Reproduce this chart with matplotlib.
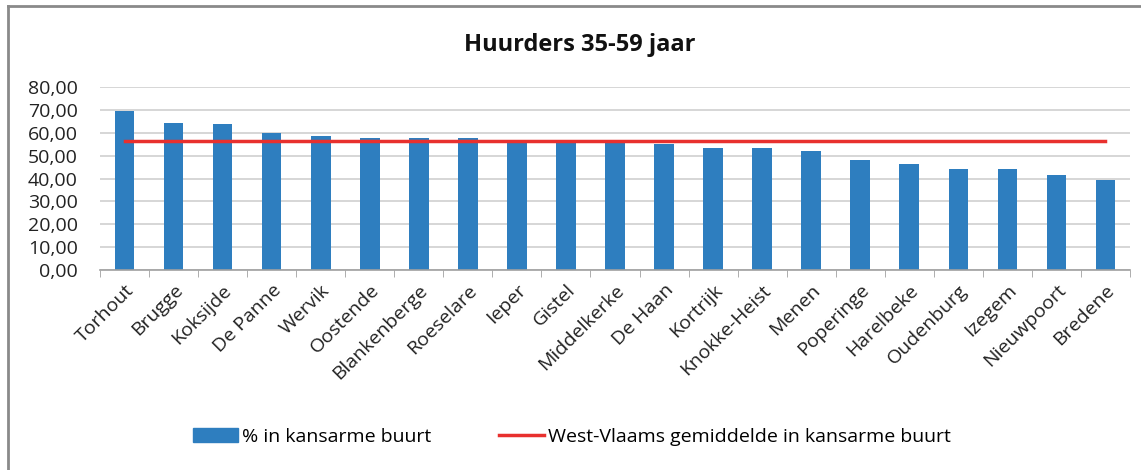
import matplotlib.pyplot as plt
from matplotlib.lines import Line2D
from matplotlib.ticker import FuncFormatter, FixedLocator

# gemeenten en percentages
gemeenten = ['Torhout', 'Brugge', 'Koksijde', 'De Panne', 'Wervik', 'Oostende',
             'Blankenberge', 'Roeselare', 'Ieper', 'Gistel', 'Middelkerke',
             'De Haan', 'Kortrijk', 'Knokke-Heist', 'Menen', 'Poperinge',
             'Harelbeke', 'Oudenburg', 'Izegem', 'Nieuwpoort', 'Bredene']
pct_kansarm = [69.7, 64.5, 63.8, 60.1, 58.7, 58.0, 57.6, 57.6, 56.3, 56.3, 56.2,
               55.0, 53.6, 53.3, 52.0, 48.3, 46.6, 44.4, 44.4, 41.8, 39.3]
wvl_gemiddelde = 56.5
y_ticks = [0, 10, 20, 30, 40, 50, 60, 70, 80]

plt.rcParams['font.family'] = ['Open Sans', 'DejaVu Sans']

W, H = 1141, 470
fig = plt.figure(figsize=(W / 100, H / 100), dpi=100)
ax = fig.add_axes([100 / W, 1 - 270 / H, 1030 / W, (270 - 87.3) / H])

x = list(range(len(gemeenten)))
ax.bar(x, pct_kansarm, width=0.4, color='#2e7ebf', zorder=2)
ax.plot([x[0], x[-1]], [wvl_gemiddelde] * 2, color='#e8302e', lw=2.5, zorder=3)

ax.set_xlim(-0.5, len(gemeenten) - 0.5)
ax.set_ylim(0, 80)
ax.set_yticks(y_ticks)
ax.yaxis.set_major_formatter(FuncFormatter(lambda v, p: f'{v:.2f}'.replace('.', ',')))
ax.grid(axis='y', color='#d0d0d0', lw=1.2, zorder=0)
ax.tick_params(axis='y', length=0, labelsize=14, pad=16, labelcolor='#222222')

ax.set_xticks(x)
ax.set_xticklabels(gemeenten, rotation=45, ha='right', rotation_mode='anchor',
                   fontsize=14, color='#222222')
ax.xaxis.set_minor_locator(FixedLocator([i - 0.5 for i in range(len(gemeenten) + 1)]))
ax.tick_params(axis='x', which='major', length=0, pad=8)
ax.tick_params(axis='x', which='minor', length=5, color='#a0a0a0', direction='out')

for s in ['top', 'right', 'left']:
    ax.spines[s].set_visible(False)
ax.spines['bottom'].set_color('#a0a0a0')
ax.spines['bottom'].set_linewidth(1.2)

fig.text(580 / W, 1 - 45 / H, 'Huurders 35-59 jaar', ha='center', va='center',
         fontsize=17, fontweight='bold', color='#111111')

handles = [plt.Rectangle((0, 0), 1, 1, color='#2e7ebf'),
           Line2D([], [], color='#e8302e', lw=2.5)]
fig.legend(handles, ['% in kansarme buurt', 'West-Vlaams gemiddelde in kansarme buurt'],
           loc='center', bbox_to_anchor=(572 / W, 1 - 437 / H), ncol=2, frameon=False,
           fontsize=14, handlelength=2.3, handletextpad=0.2, columnspacing=3.5)

# kader rond de figuur
fig.add_artist(Line2D([8 / W, 1], [1 - 6 / H, 1 - 6 / H], color='#8a8a8a', lw=2,
                      transform=fig.transFigure))
fig.add_artist(Line2D([8 / W, 8 / W], [0, 1 - 6 / H], color='#8a8a8a', lw=2,
                      transform=fig.transFigure))

fig.savefig('out.png', dpi=100)
